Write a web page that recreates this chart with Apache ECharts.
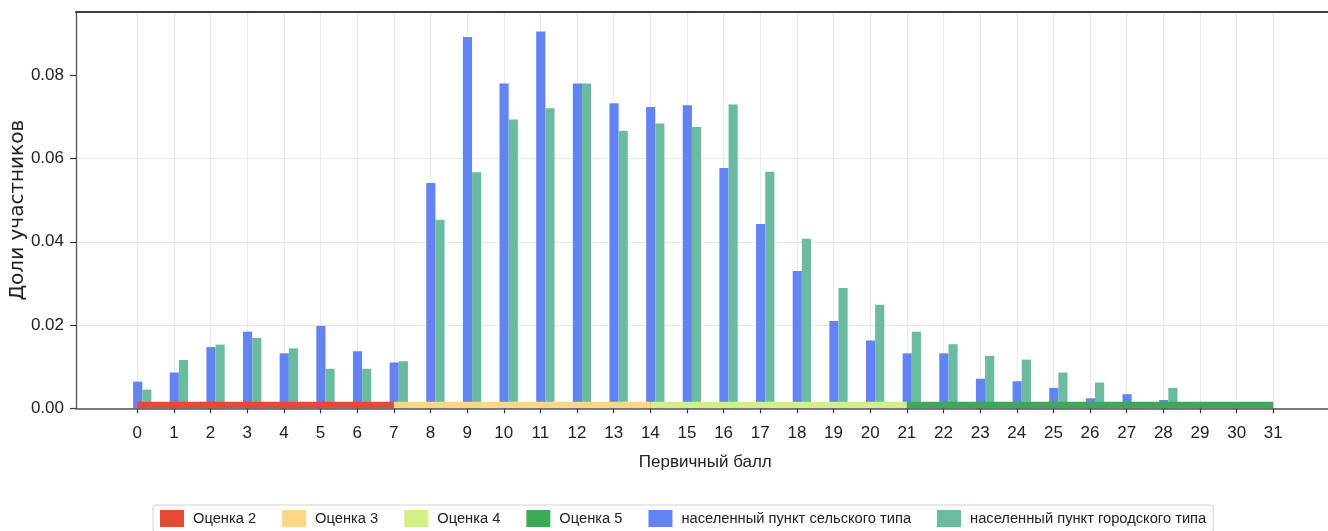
<!DOCTYPE html>
<html>
<head>
<meta charset="utf-8">
<script src="https://cdn.jsdelivr.net/npm/echarts@6/dist/echarts.min.js"></script>
<style>html,body{margin:0;padding:0;background:#fff;}#c{width:1328px;height:531px;}</style>
</head>
<body>
<div id="c"></div>
<script>
// ---- data ----
const scores = [0,1,2,3,4,5,6,7,8,9,10,11,12,13,14,15,16,17,18,19,20,21,22,23,24,25,26,27,28,29,30,31];
const rural = [0.0064,0.0086,0.0147,0.0184,0.0132,0.0198,0.0137,0.0110,0.0541,0.0892,0.0780,0.0905,0.0780,0.0733,0.0724,0.0728,0.0577,0.0443,0.0330,0.0210,0.0163,0.0132,0.0132,0.0071,0.0065,0.0049,0.0024,0.0034,0.0020,0,0,0];
const urban = [0.0045,0.0116,0.0153,0.0169,0.0144,0.0095,0.0095,0.0113,0.0453,0.0567,0.0694,0.0721,0.0780,0.0666,0.0684,0.0676,0.0730,0.0568,0.0407,0.0289,0.0249,0.0184,0.0154,0.0126,0.0117,0.0086,0.0062,0.0012,0.0049,0,0,0];
const gradeNames = ['Оценка 2','Оценка 3','Оценка 4','Оценка 5'];
const gradeStart = [0,7,14,21];
const gradeEnd = [7,14,21,31];
const seriesNames = ['населенный пункт сельского типа','населенный пункт городского типа'];
const yTicks = [0,0.02,0.04,0.06,0.08];
const xTitle = 'Первичный балл';
const yTitle = 'Доли участников';

// ---- style ----
const gradeColors = ['#E54B34','#FED684','#D4EE88','#3DA956'];
const barColors = ['#6383F2','#6BBBA1'];
const YMAX = 0.0952;
const BAND_H = 6.6;

function fontAvailable(f){
  const ctx = document.createElement('canvas').getContext('2d');
  const s = 'Оценка 0.08 абвгд WMil';
  ctx.font = '40px monospace'; const a = ctx.measureText(s).width;
  ctx.font = "40px '" + f + "', monospace"; const b = ctx.measureText(s).width;
  return Math.abs(a - b) > 0.5;
}
let FONT, TICK_FS, LEG_FS, TITLE_FS;
if (fontAvailable('Liberation Sans Narrow')) {
  FONT = "'Liberation Sans Narrow'"; TICK_FS = 20; LEG_FS = 17.5; TITLE_FS = 20;
} else {
  FONT = "'Liberation Sans'"; TICK_FS = 17; LEG_FS = 14.7; TITLE_FS = 17;
}

function barRender(offA, offB, color){
  return function(params, api){
    const x = api.value(0), v = api.value(1);
    const p0 = api.coord([x + offA, v]);
    const p1 = api.coord([x + offB, 0]);
    return {type:'rect', shape:{x:p0[0], y:p0[1], width:p1[0]-p0[0], height:p1[1]-p0[1]}, style:{fill:color}};
  };
}
function bandRender(color){
  return function(params, api){
    const p0 = api.coord([api.value(0), 0]);
    const p1 = api.coord([api.value(1), 0]);
    return {type:'rect', shape:{x:p0[0], y:p0[1]-BAND_H, width:p1[0]-p0[0], height:BAND_H}, style:{fill:color}};
  };
}

const series = [];
gradeNames.forEach((n,i)=>{
  series.push({name:n, type:'custom', xAxisIndex:2, yAxisIndex:1, z:5,
    itemStyle:{color:gradeColors[i]},
    encode:{x:[0,1]},
    data:[[gradeStart[i], gradeEnd[i]]],
    renderItem: bandRender(gradeColors[i])});
});
[rural, urban].forEach((arr,k)=>{
  series.push({name:seriesNames[k], type:'custom', xAxisIndex:2, yAxisIndex:1, z:3,
    itemStyle:{color:barColors[k]},
    encode:{x:0,y:1},
    data: scores.map((s,i)=>[s, arr[i]]),
    renderItem: k===0 ? barRender(-0.115,0.135,barColors[0]) : barRender(0.135,0.385,barColors[1])});
});

const chart = echarts.init(document.getElementById('c'), null, {renderer:'canvas'});
chart.setOption({
  animation:false,
  backgroundColor:'#fff',
  grid:[
    {left:76, right:-5, top:12, bottom:122.7, containLabel:false, outerBoundsMode:'none'},
    {left:137.3, right:54.7, top:12, bottom:122.7, containLabel:false, outerBoundsMode:'none'}
  ],
  xAxis:[
    {type:'value', gridIndex:0, min:0, max:1, z:6,
      axisLine:{show:true, lineStyle:{color:'#555', width:1.5}},
      axisTick:{show:false}, axisLabel:{show:false}, splitLine:{show:false}},
    {type:'value', gridIndex:0, position:'top', min:0, max:1,
      axisLine:{show:true, lineStyle:{color:'#3c3c3c', width:2}},
      axisTick:{show:false}, axisLabel:{show:false}, splitLine:{show:false}},
    {type:'value', gridIndex:1, min:0, max:31, interval:1,
      axisLine:{show:false},
      axisTick:{show:true, length:5, lineStyle:{color:'#333', width:1.2}},
      axisLabel:{fontSize:TICK_FS, color:'#222', margin:17, fontFamily:FONT},
      splitLine:{show:true, lineStyle:{color:'#ebebeb', width:1.2}},
      name:xTitle, nameLocation:'middle', nameGap:46,
      nameTextStyle:{fontSize:TITLE_FS, color:'#222', fontFamily:FONT}}
  ],
  yAxis:[
    {type:'value', gridIndex:0, min:0, max:YMAX, interval:0.02,
      axisLine:{show:true, lineStyle:{color:'#555', width:1.3}},
      axisTick:{show:true, length:6, customValues:yTicks, lineStyle:{color:'#333', width:1.2}},
      axisLabel:{fontSize:TICK_FS, color:'#222', margin:12, fontFamily:FONT, customValues:yTicks,
        formatter:v=>v.toFixed(2)},
      splitLine:{show:true, showMaxLine:false, lineStyle:{color:'#e8e8e8', width:1.2}},
      name:yTitle, nameLocation:'middle', nameGap:48, nameRotate:90, nameMoveOverlap:false,
      nameTextStyle:{fontSize:20, color:'#222', fontFamily:'DejaVu Sans'}},
    {type:'value', gridIndex:1, min:0, max:YMAX, show:false}
  ],
  legend:{
    left:153, top:505, orient:'horizontal', icon:'rect',
    itemWidth:24, itemHeight:17, itemGap:26,
    padding:[5,7,6,7], borderColor:'#d0d0d0', borderWidth:1, borderRadius:3,
    backgroundColor:'#fff',
    textStyle:{fontSize:LEG_FS, color:'#222', fontFamily:FONT, padding:[0,0,0,4]},
    data: gradeNames.concat(seriesNames)
  },
  series: series
});
</script>
</body>
</html>
